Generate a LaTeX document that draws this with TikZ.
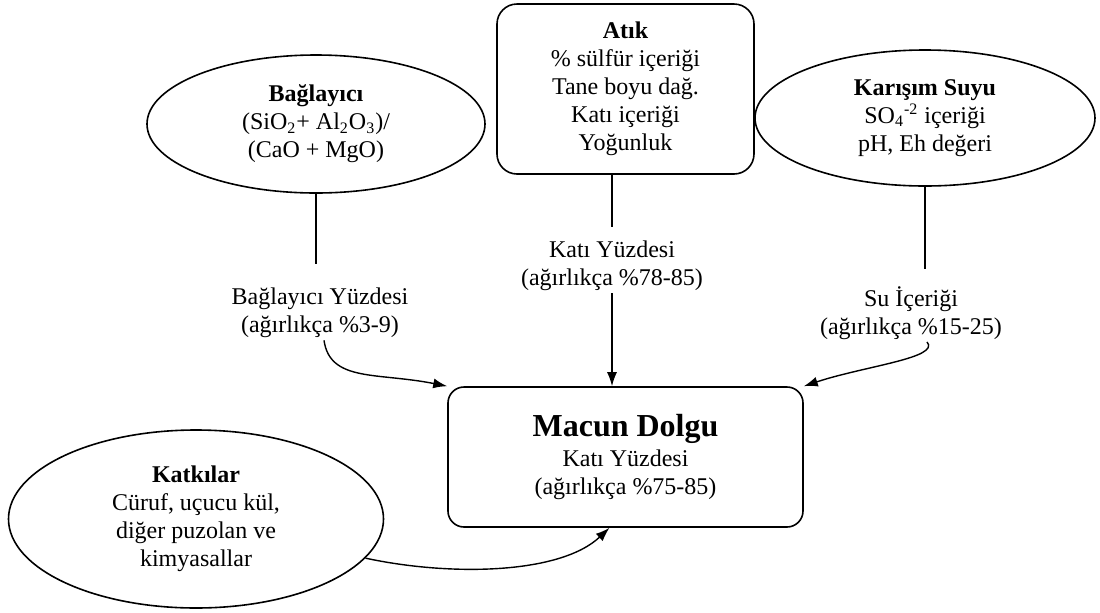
\documentclass[tikz,border=0pt]{standalone}
\usepackage{fontspec}
\setmainfont{Liberation Serif}
\usetikzlibrary{shapes.geometric, arrows.meta}

\begin{document}
\begin{tikzpicture}[x=0.5pt,y=-0.5pt,
		oval/.style={draw,ellipse,line width=0.8pt,inner sep=0pt,align=center,font=\fontsize{12}{14}\selectfont},
		kutu/.style={draw,rectangle,rounded corners=10pt,line width=0.8pt,align=center,font=\fontsize{12}{14}\selectfont},
		etiket/.style={align=center,inner sep=1pt,font=\fontsize{12}{14}\selectfont},
		hat/.style={line width=0.7pt},
		ok/.style={-{Latex[length=7pt,width=5pt]},line width=0.7pt}]
		\useasboundingbox (0,0) rectangle (1100,612);
		\node (bag) [oval, minimum width=169pt, minimum height=69pt] at (316,124) {\textbf{Bağlayıcı}\\(SiO\textsubscript{2}+ Al\textsubscript{2}O\textsubscript{3})/\\(CaO + MgO)};
		\node (atik) [kutu, minimum width=128.5pt, minimum height=85pt] at (625.5,89) {\textbf{Atık}\\\% sülfür içeriği\\Tane boyu dağ.\\Katı içeriği\\Yoğunluk};
		\node (kar) [oval, minimum width=170pt, minimum height=68pt] at (925,118) {\textbf{Karışım Suyu}\\SO\textsubscript{4}\textsuperscript{-2} içeriği\\pH, Eh değeri};
		\node (katki) [oval, minimum width=187.5pt, minimum height=89pt] at (196,519) {\textbf{Katkılar}\\Cüruf, uçucu kül,\\diğer puzolan ve\\kimyasallar};
		\node (macun) [kutu, minimum width=177.5pt, minimum height=70pt, rounded corners=8pt] at (625.5,457) {{\fontsize{16}{18}\selectfont\bfseries Macun Dolgu}\\[1pt]Katı Yüzdesi\\(ağırlıkça \%75-85)};
		\node (bagpct) [etiket] at (320,313) {Bağlayıcı Yüzdesi\\(ağırlıkça \%3-9)};
		\node (atikpct) [etiket] at (612,266) {Katı Yüzdesi\\(ağırlıkça \%78-85)};
		\node (supct) [etiket] at (911,313) {Su İçeriği\\(ağırlıkça \%15-25)};
		\draw [hat, shorten >=11pt] (bag.south) -- (bag.south |- bagpct.north);
		\draw [hat, shorten >=6pt] (atik.south -| atikpct.north) -- (atikpct.north);
		\draw [hat, shorten >=7.5pt] (kar.south) -- (kar.south |- supct.north);
		\draw [ok] (atikpct.south) -- (atikpct.south |- macun.north);
		\draw [ok] ([xshift=2pt]bagpct.south) .. controls +(6,42) and +(-70,-14) .. (macun.north west);
		\draw [ok] ([xshift=8pt]supct.south) .. controls +(14,16) and +(60,-20) .. (macun.north east);
		\draw [ok] (katki.-13) .. controls +(83,18) and +(-50,47) .. ([xshift=-8pt]macun.south);
	\end{tikzpicture}
\end{document}
